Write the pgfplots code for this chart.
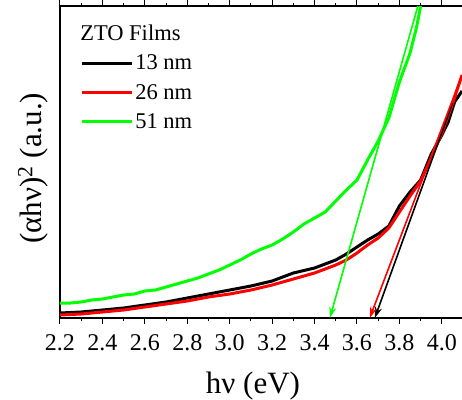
\documentclass[border=0pt]{standalone}
\usepackage{fontspec}
\setmainfont{Liberation Serif}
\usepackage{pgfplots}
\pgfplotsset{compat=1.18}
\usetikzlibrary{arrows.meta}
\definecolor{gr}{RGB}{0,255,0}
\definecolor{rd}{RGB}{255,0,0}
\newcommand{\tl}[1]{\fontsize{24}{26}\selectfont #1}
\begin{document}
\begin{tikzpicture}
\begin{axis}[
  scale only axis, width=402pt, height=312pt,
  at={(0,0)}, anchor=south west,
  xmin=2.2, xmax=4.095, ymin=0, ymax=312,
  axis x line=box, axis y line=left,
  axis line style={-, line width=1.4pt},
  xtick={2.2,2.4,...,4.01},
  xticklabels={\tl{2.2},\tl{2.4},\tl{2.6},\tl{2.8},\tl{3.0},\tl{3.2},\tl{3.4},\tl{3.6},\tl{3.8},\tl{4.0}},
  minor x tick num=1,
  ytick=\empty,
  tick align=outside,
  major tick length=6pt, minor tick length=3pt,
  every tick/.style={black, line width=1pt},
  /pgf/number format/assume math mode=true,
  xticklabel style={font=\fontsize{24}{26}\selectfont, yshift=-7pt},
  xlabel={hν (eV)},
  ylabel={(αhν)\textsuperscript{2} (a.u.)},
  every axis x label/.style={at={(rel axis cs:0.48,0)}, anchor=base, yshift=-75pt, font=\fontsize{31}{34}\selectfont},
  every axis y label/.style={at={(rel axis cs:0,0.48)}, anchor=center, rotate=90, yshift=27pt, font=\fontsize{31}{34}\selectfont},
  legend style={draw=none, fill=none, at={(rel axis cs:0.05,0.85)}, anchor=north west,
    font=\fontsize{22.5}{25}\selectfont, inner sep=0pt, row sep=9pt},
  legend cell align=left,
  legend image code/.code={\draw[#1, line width=3pt] (0pt,0pt) -- (50pt,0pt);},
  clip=true,
]
\addplot[black, line width=3pt] coordinates {(2.2,5) (2.3,6) (2.4,8) (2.5,10) (2.6,13) (2.7,16) (2.8,20) (2.9,24) (3.0,28) (3.1,32) (3.2,37) (3.3,45) (3.4,50) (3.5,58) (3.55,64) (3.6,71) (3.65,78) (3.7,84) (3.75,92) (3.8,112) (3.85,126) (3.9,138) (3.95,164) (4.0,183) (4.03,196) (4.06,216) (4.095,227)};
\addlegendentry{13 nm}
\addplot[rd, line width=3pt] coordinates {(2.2,3) (2.3,4) (2.4,6) (2.5,8) (2.6,11) (2.7,14) (2.8,17) (2.9,21) (3.0,24) (3.1,28) (3.2,33) (3.3,39) (3.4,45) (3.5,53) (3.55,58) (3.6,65) (3.65,73) (3.7,80) (3.75,90) (3.8,106) (3.85,122) (3.9,137) (3.95,160) (4.0,185) (4.05,214) (4.095,243)};
\addlegendentry{26 nm}
\addplot[gr, line width=3pt] coordinates {(2.2,15) (2.25,15) (2.30,16) (2.35,18) (2.40,19) (2.45,21) (2.50,23) (2.55,24) (2.60,27) (2.65,28) (2.70,31) (2.75,34) (2.80,37) (2.85,40) (2.90,44) (2.95,48) (3.00,53) (3.05,58) (3.10,64) (3.15,69) (3.20,73) (3.25,79) (3.30,86) (3.35,94) (3.40,100) (3.45,106) (3.50,117) (3.55,128) (3.60,138) (3.65,158) (3.70,177) (3.75,200) (3.80,236) (3.85,265) (3.88,290) (3.90,312)};
\addlegendentry{51 nm}
\addplot[gr, line width=1.6pt, -{Stealth[length=11pt,width=7pt]}, forget plot] coordinates {(3.887,312) (3.472,0)};
\addplot[black, line width=1.6pt, -{Stealth[length=11pt,width=7pt]}, forget plot] coordinates {(4.05,215) (3.684,0)};
\addplot[rd, line width=1.6pt, -{Stealth[length=11pt,width=7pt]}, forget plot] coordinates {(4.095,243) (3.66,0)};
\node[anchor=base west, font=\fontsize{22.5}{25}\selectfont, inner sep=0pt] at (rel axis cs:0.05,0.891) {ZTO Films};
\end{axis}
\pgfresetboundingbox
\path (-60pt,-81pt) rectangle (402pt,318pt);
\end{tikzpicture}
\end{document}
